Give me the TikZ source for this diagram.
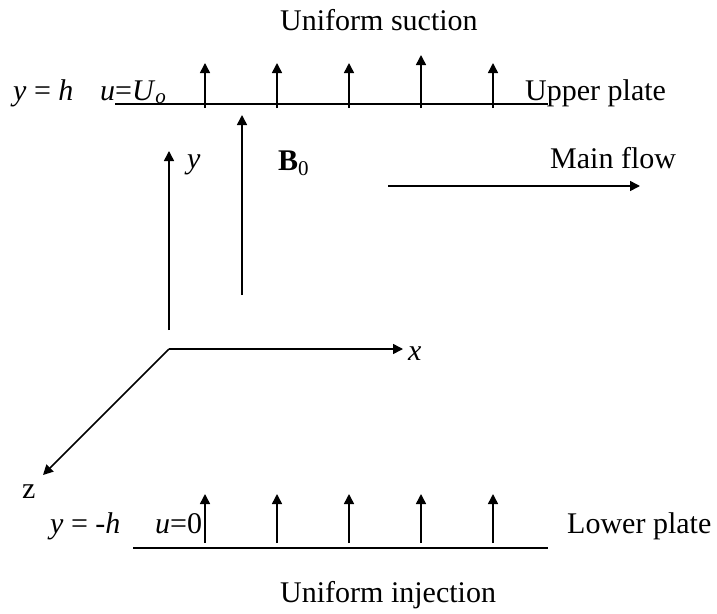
\documentclass[tikz,border=0pt]{standalone}
\usepackage{fontspec}
\setmainfont{Liberation Serif}
\usetikzlibrary{arrows.meta}
\begin{document}
\begin{tikzpicture}[x=1pt,y=-1pt,
  plate/.style={line width=2.4pt},
  vec/.style={line width=1.5pt,-{Triangle[length=10pt,width=10pt]}},
  lbl/.style={inner sep=0pt,font=\fontsize{30}{35}\selectfont},
]
\useasboundingbox (0,0) rectangle (717,613);
% plates
\coordinate (upL) at (115,104); \coordinate (upR) at (548,104);
\coordinate (loL) at (133,548); \coordinate (loR) at (548,548);
\draw[plate] (upL) -- (upR);
\draw[plate] (loL) -- (loR);
% suction arrows
\foreach \i/\xx/\tp in {1/205/63,2/277/63,3/349/63,4/421/55,5/493/63}{
  \coordinate (sb\i) at (\xx,108); \coordinate (st\i) at (\xx,\tp);
  \draw[vec] (sb\i) -- (st\i);
}
% injection arrows
\foreach \i/\xx in {1/205,2/277,3/349,4/421,5/493}{
  \coordinate (ib\i) at (\xx,543); \coordinate (it\i) at (\xx,494);
  \draw[vec] (ib\i) -- (it\i);
}
% B0 arrow
\coordinate (bb) at (242,295); \coordinate (bt) at (242,115);
\draw[vec] (bb) -- (bt);
% axes
\coordinate (O) at (169,349);
\coordinate (ys) at (169,330); \coordinate (yt) at (169,151);
\coordinate (xt) at (403,349); \coordinate (zt) at (43,475);
\draw[vec] (ys) -- (yt);
\draw[vec] (O) -- (xt);
\draw[vec] (O) -- (zt);
% main flow
\coordinate (mfs) at (388,186); \coordinate (mft) at (640,186);
\draw[vec] (mfs) -- (mft);
% labels
\node[lbl,anchor=base west] (suc) at (280,30) {Uniform suction};
\node[lbl,anchor=base west] (inj) at (280,602) {Uniform injection};
\node[lbl,anchor=base west] (upl) at (525,100) {Upper plate};
\node[lbl,anchor=base west] (lpl) at (567,533) {Lower plate};
\node[lbl,anchor=base west] (mfl) at (550,168) {Main flow};
\node[lbl,anchor=base west] (yh) at (13,100) {\textit{y} = \textit{h}};
\node[lbl,anchor=base west] (uU) at (100,100) {\textit{u}=\textit{U}\textsubscript{\textit{o}}};
\node[lbl,anchor=base west] (ymh) at (50,533) {\textit{y} = -\textit{h}};
\node[lbl,anchor=base west] (u0) at (155,533) {\textit{u}=0};
\node[lbl,anchor=base west] (ylab) at (187,168) {\textit{y}};
\node[lbl,anchor=base west] (B0) at (278,170) {\textbf{B}\textsubscript{0}};
\node[lbl,anchor=base west] (xlab) at (408,360) {\textit{x}};
\node[lbl,anchor=base west] (zlab) at (22,498) {z};
\end{tikzpicture}
\end{document}
